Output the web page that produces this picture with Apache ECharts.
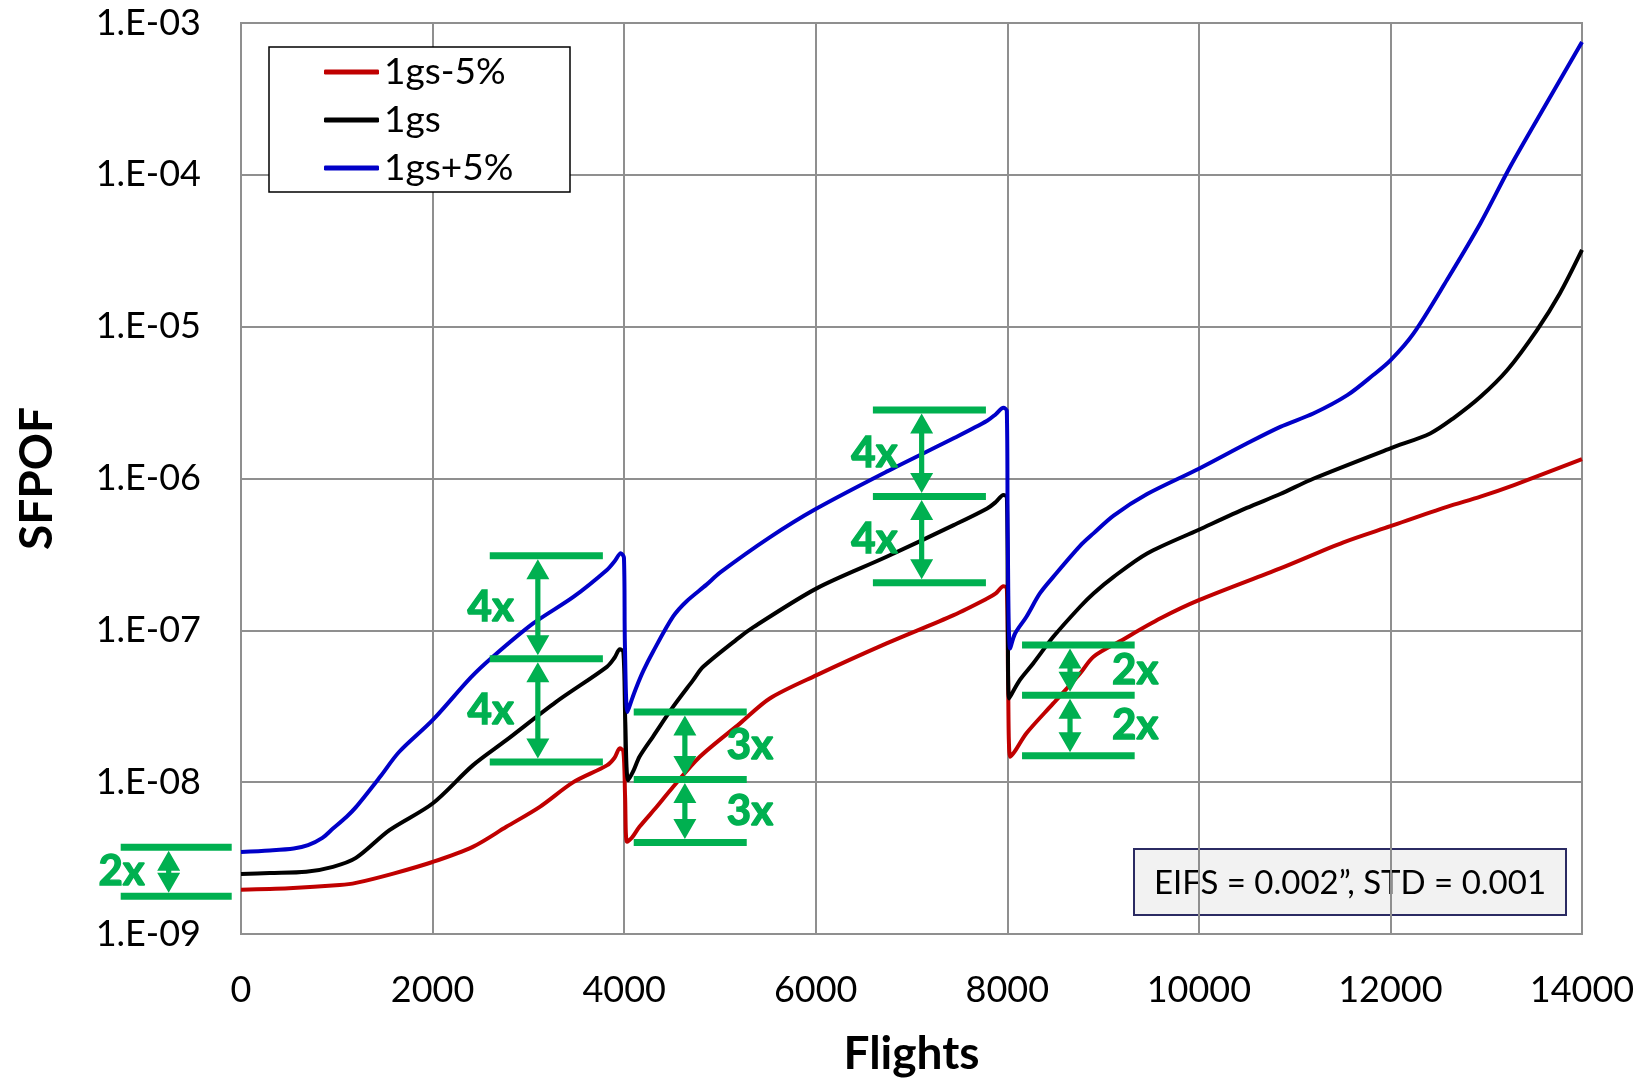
<!DOCTYPE html>
<html>
<head>
<meta charset="utf-8">
<title>SFPOF vs Flights</title>
<script src="https://cdn.jsdelivr.net/npm/echarts/dist/echarts.min.js"></script>
<style>
  html, body { margin: 0; padding: 0; background: #ffffff; overflow: hidden; }
  #chart { width: 1645px; height: 1081px; }
</style>
</head>
<body>
<div id="chart"></div>
<script>
// ---- data ----
const seriesNames = ['1gs-5%', '1gs', '1gs+5%'];

const flightsLo = [0, 500, 1030, 1200, 1590, 2000, 2420, 2770, 3120, 3470,
  3820, 3900, 3955, 3992, 4010, 4030, 4080, 4160, 4340, 4510,
  4790, 5210, 5520, 6010, 6740, 7440, 7790, 7880, 7960, 7995,
  8008, 8030, 8080, 8200, 8480, 8760, 8900, 9180, 9600, 10000,
  10850, 11510, 12000, 12590, 12940, 13290, 14000];
const sfpofLo = [1.96e-9, 2.0e-9, 2.1e-9, 2.17e-9, 2.5e-9, 2.98e-9, 3.75e-9, 5.08e-9, 6.88e-9, 1.0e-8,
  1.29e-8, 1.45e-8, 1.67e-8, 1.6e-8, 8e-9, 4.05e-9, 4.3e-9, 5.08e-9, 6.88e-9, 9.3e-9,
  1.47e-8, 2.44e-8, 3.56e-8, 5.07e-8, 8.2e-8, 1.26e-7, 1.62e-7, 1.75e-7, 1.95e-7, 1.9e-7,
  5e-8, 1.47e-8, 1.6e-8, 2.1e-8, 3.3e-8, 5.2e-8, 6.7e-8, 8.5e-8, 1.2e-7, 1.58e-7,
  2.56e-7, 3.8e-7, 4.85e-7, 6.5e-7, 7.6e-7, 9.06e-7, 1.34e-6];

const flightsMid = [0, 300, 680, 960, 1200, 1550, 2000, 2420, 2770, 3290,
  3820, 3900, 3955, 3992, 4012, 4042, 4100, 4160, 4300, 4510,
  4720, 4825, 5210, 5350, 6010, 6740, 7440, 7790, 7880, 7960,
  7996, 8006, 8018, 8130, 8270, 8480, 8760, 8900, 9110, 9460,
  10000, 10500, 10850, 11200, 12000, 12415, 12660, 12940, 13220, 13530,
  13770, 14000];
const sfpofMid = [2.48e-9, 2.52e-9, 2.57e-9, 2.77e-9, 3.17e-9, 4.83e-9, 7.24e-9, 1.29e-8, 1.89e-8, 3.38e-8,
  5.75e-8, 6.6e-8, 7.5e-8, 7.2e-8, 2.5e-8, 1.03e-8, 1.2e-8, 1.47e-8, 1.99e-8, 3.13e-8,
  4.7e-8, 5.75e-8, 9.06e-8, 1.05e-7, 1.89e-7, 3.05e-7, 4.93e-7, 6.35e-7, 7.0e-7, 7.8e-7,
  7.5e-7, 1e-7, 3.56e-8, 4.7e-8, 6.05e-8, 9.06e-8, 1.43e-7, 1.75e-7, 2.25e-7, 3.21e-7,
  4.6e-7, 6.4e-7, 7.9e-7, 1.0e-6, 1.58e-6, 1.98e-6, 2.5e-6, 3.45e-6, 5.18e-6, 9.5e-6,
  1.66e-5, 3.2e-5];

const flightsHi = [0, 300, 550, 700, 850, 960, 1100, 1200, 1450, 1650,
  2000, 2400, 2630, 3050, 3470, 3820, 3900, 3965, 3998, 4008,
  4035, 4080, 4130, 4200, 4300, 4510, 4650, 4860, 5000, 5520,
  6000, 6740, 7440, 7790, 7880, 7960, 7995, 8005, 8030, 8080,
  8200, 8340, 8480, 8760, 8900, 9110, 9460, 10000, 10500, 10850,
  11200, 11550, 11820, 12000, 12240, 12590, 12940, 13250, 13630, 14000];
const sfpofHi = [3.47e-9, 3.55e-9, 3.66e-9, 3.85e-9, 4.3e-9, 4.95e-9, 5.9e-9, 6.85e-9, 1.08e-8, 1.58e-8,
  2.56e-8, 4.9e-8, 6.7e-8, 1.11e-7, 1.66e-7, 2.5e-7, 2.85e-7, 3.22e-7, 3.0e-7, 8e-8,
  2.9e-8, 3.5e-8, 4.25e-8, 5.4e-8, 7.2e-8, 1.23e-7, 1.55e-7, 2.0e-7, 2.4e-7, 4.1e-7,
  6.3e-7, 1.11e-6, 1.84e-6, 2.4e-6, 2.65e-6, 2.92e-6, 2.8e-6, 4e-7, 7.6e-8, 9.5e-8,
  1.23e-7, 1.75e-7, 2.25e-7, 3.6e-7, 4.35e-7, 5.7e-7, 7.9e-7, 1.16e-6, 1.7e-6, 2.19e-6,
  2.69e-6, 3.54e-6, 4.8e-6, 6.0e-6, 9.0e-6, 2.03e-5, 4.8e-5, 1.13e-4, 2.96e-4, 7.5e-4];

// tick labels
const xTickLabels = ['0', '2000', '4000', '6000', '8000', '10000', '12000', '14000'];
const yTickLabels = ['1.E-09', '1.E-08', '1.E-07', '1.E-06', '1.E-05', '1.E-04', '1.E-03'];

// ratio bands: flight span of the bars, SFPOF level of each bar, arrow position, ratio text
const bandSpans = [[-1256, -97], [2597, 3778], [4100, 5280], [6597, 7777], [8154, 9330]];
const bandLevels = [
  [3.72e-9, 1.77e-9],
  [3.1e-7, 6.5e-8, 1.36e-8],
  [2.9e-8, 1.04e-8, 4.0e-9],
  [2.83e-6, 7.6e-7, 2.06e-7],
  [8.0e-8, 3.74e-8, 1.49e-8]
];
const bandArrowX = [-755, 3099, 4634, 7106, 8655];
const bandText = ['2x', '4x', '3x', '4x', '2x'];
const bandTextSide = ['left', 'left', 'right', 'left', 'right'];

// ---- drawing ----
const GREEN = '#00B050';
const FONT = 'Lato';

function pairs(xs, ys) { return xs.map((x, i) => [x, ys[i]]); }

// double-headed vertical arrow; heads meet in a diamond when the gap is short
function arrowPoints(ax, yTop, yBot) {
  const headLen = 20, headHalf = 11.5, shaftHalf = 2.6;
  const h = Math.min(headLen, (yBot - yTop) / 2);
  const a = yTop + h, b = yBot - h;
  return [
    [ax, yTop], [ax + headHalf, a], [ax + shaftHalf, a], [ax + shaftHalf, b],
    [ax + headHalf, b], [ax, yBot], [ax - headHalf, b], [ax - shaftHalf, b],
    [ax - shaftHalf, a], [ax - headHalf, a]
  ];
}

function renderBand(params, api) {
  const i = params.dataIndex;
  const levels = bandLevels[i];
  const barH = 7;
  const ax = api.coord([bandArrowX[i], levels[0]])[0];
  const px0 = api.coord([bandSpans[i][0], levels[0]])[0];
  const px1 = api.coord([bandSpans[i][1], levels[0]])[0];
  const ys = levels.map(L => api.coord([bandArrowX[i], L])[1]);
  const children = [];
  for (let k = 0; k < ys.length - 1; k++) {
    const yTop = ys[k] + barH / 2, yBot = ys[k + 1] - barH / 2;
    children.push({
      type: 'polygon',
      shape: { points: arrowPoints(ax, yTop, yBot) },
      style: { fill: GREEN }
    });
    const left = bandTextSide[i] === 'left';
    children.push({
      type: 'text',
      x: left ? ax - 24 : ax + 42,
      y: (ys[k] + ys[k + 1]) / 2,
      style: {
        text: bandText[i],
        fill: GREEN,
        stroke: GREEN,
        lineWidth: 1.4,
        font: 'bold 42px ' + FONT,
        align: left ? 'right' : 'left',
        verticalAlign: 'middle'
      }
    });
  }
  ys.forEach(y => children.push({
    type: 'rect',
    shape: { x: px0, y: y - barH / 2, width: px1 - px0, height: barH },
    style: { fill: GREEN }
  }));
  return { type: 'group', children };
}

const chart = echarts.init(document.getElementById('chart'), null, { renderer: 'canvas' });

const gridColor = '#8f8f8f';

chart.setOption({
  animation: false,
  backgroundColor: '#ffffff',
  grid: {
    left: 241, right: 63, top: 23, bottom: 147,
    outerBoundsMode: 'none', containLabel: false,
    show: true, borderColor: gridColor, borderWidth: 2, backgroundColor: 'transparent'
  },
  legend: {
    data: seriesNames,
    orient: 'vertical',
    left: 269, top: 47,
    itemWidth: 55, itemHeight: 5, itemGap: 4,
    icon: 'roundRect',
    padding: [3, 56, 2, 55],
    borderColor: '#000000', borderWidth: 1.5,
    backgroundColor: '#ffffff',
    textStyle: { fontFamily: FONT, fontSize: 37, color: '#000', lineHeight: 44, width: 130 }
  },
  xAxis: {
    type: 'value', min: 0, max: 14000, interval: 2000,
    name: 'Flights', nameLocation: 'middle', nameGap: 97,
    nameTextStyle: { fontFamily: FONT, fontWeight: 'bold', fontSize: 46, color: '#000' },
    axisLine: { show: true, lineStyle: { color: gridColor, width: 2 } },
    axisTick: { show: false },
    axisLabel: { fontFamily: FONT, fontSize: 36, color: '#000', margin: 38,
      formatter: v => xTickLabels[Math.round(v / 2000)] },
    splitLine: { show: true, lineStyle: { color: gridColor, width: 2 } }
  },
  yAxis: {
    type: 'log', logBase: 10, min: 1e-9, max: 1e-3, interval: 1,
    name: 'SFPOF', nameLocation: 'middle', nameGap: 181, nameRotate: 90,
    nameTextStyle: { fontFamily: FONT, fontWeight: 'bold', fontSize: 46, color: '#000' },
    axisLine: { show: true, lineStyle: { color: gridColor, width: 2 } },
    axisTick: { show: false },
    axisLabel: {
      fontFamily: FONT, fontSize: 36, color: '#000', margin: 40,
      formatter: v => yTickLabels[Math.round(Math.log10(v)) + 9]
    },
    splitLine: { show: true, lineStyle: { color: gridColor, width: 2 } }
  },
  graphic: [{
    type: 'group',
    left: 1133, top: 848,
    children: [
      { type: 'rect', shape: { x: 0, y: 0, width: 432, height: 66 },
        style: { fill: '#F2F2F2', stroke: '#2B2B63', lineWidth: 2 } },
      { type: 'text', x: 216, y: 34,
        style: { text: 'EIFS = 0.002\u201D, STD = 0.001', font: '33px ' + FONT, fill: '#000',
                 align: 'center', verticalAlign: 'middle' } }
    ]
  }],
  series: [
    { name: seriesNames[0], type: 'line', data: pairs(flightsLo, sfpofLo), symbol: 'none', smooth: 0.3,
      color: '#C00000', lineStyle: { width: 4, color: '#C00000', join: 'round' }, z: 2 },
    { name: seriesNames[1], type: 'line', data: pairs(flightsMid, sfpofMid), symbol: 'none', smooth: 0.3,
      color: '#000000', lineStyle: { width: 4, color: '#000000', join: 'round' }, z: 3 },
    { name: seriesNames[2], type: 'line', data: pairs(flightsHi, sfpofHi), symbol: 'none', smooth: 0.3,
      color: '#0000C8', lineStyle: { width: 4, color: '#0000C8', join: 'round' }, z: 4 },
    { name: 'ratios', type: 'custom', renderItem: renderBand, clip: false, z: 10,
      data: bandArrowX.map((x, i) => [x, bandLevels[i][0]]), silent: true }
  ]
});
</script>
</body>
</html>
